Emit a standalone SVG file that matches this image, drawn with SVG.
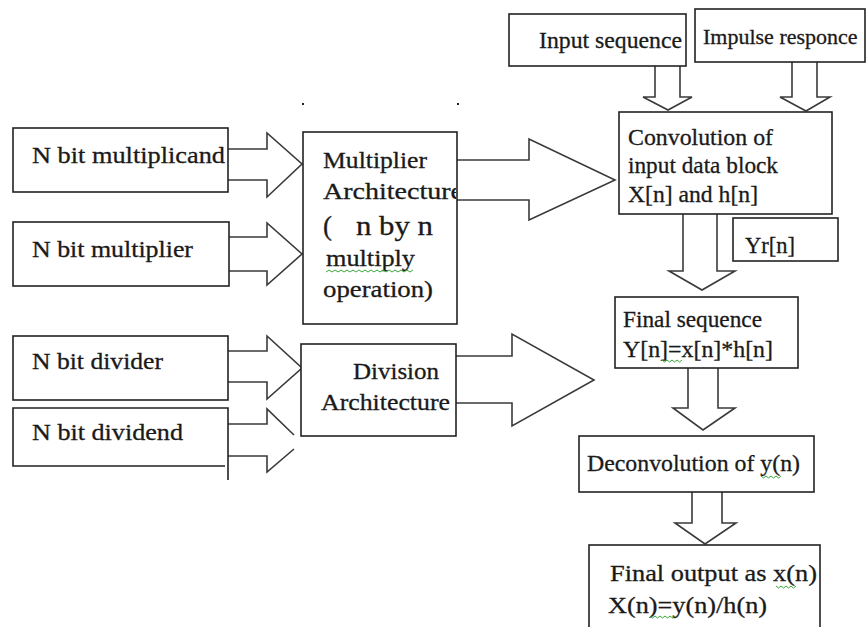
<svg xmlns="http://www.w3.org/2000/svg" width="866" height="627" viewBox="0 0 866 627">
<style>
.box{fill:#fff;stroke:#222;stroke-width:1.6}
.t{font-family:"Liberation Serif","Times New Roman","DejaVu Serif",serif;font-size:24px;fill:#1a1a1a;stroke:#1a1a1a;stroke-width:0.3}
.arr{fill:none;stroke:#3a3a3a;stroke-width:1.6;stroke-linejoin:miter}
.sq{fill:none;stroke:#3aa83a;stroke-width:1}
</style>
<defs>
<clipPath id="clipMul"><rect x="304" y="133" width="152" height="190"/></clipPath>
</defs>
<rect width="866" height="627" fill="#fff"/>

<g id="connectors">
<path class="arr" d="M228,149 H267 V133 L302,164 L267,197 V180 H228"/>
<path class="arr" d="M229,237 H267 V223 L302,254 L267,285 V271 H229"/>
<path class="arr" d="M228,351 H267 V336 L302,368 L267,399 V382 H228"/>
<path class="arr" d="M228,424 H267 V409 L294,435"/>
<path class="arr" d="M228,456 H267 V472 L294,449"/>
<path class="arr" d="M457,160 H529 V139 L615,180 L529,220 V200 H457"/>
<path class="arr" d="M456,356 H512 V334 L594,380 L512,426 V403 H456"/>
<path class="arr" d="M655,66 V97 H643 L668,110 L692,97 H680 V66"/>
<path class="arr" d="M792,62 V97 H780 L806,111 L830,97 H817 V62"/>
<path class="arr" d="M683,214 V271 H669 L702,290 L735,271 H717 V214"/>
<path class="arr" d="M688,368 V408 H673 L703,430 L735,408 H718 V368"/>
<path class="arr" d="M692,492 V523 H675 L705,544 L736,523 H722 V492"/>
</g>

<g id="n-multiplicand">
<rect class="box" x="13" y="128" width="215" height="64"/>
<text class="t" x="32" y="163" textLength="193" lengthAdjust="spacingAndGlyphs">N bit multiplicand</text>
</g>
<g id="n-multiplier">
<rect class="box" x="13" y="222" width="216" height="64"/>
<text class="t" x="32" y="257" textLength="161" lengthAdjust="spacingAndGlyphs">N bit multiplier</text>
</g>
<g id="n-divider">
<rect class="box" x="13" y="336" width="215" height="64"/>
<text class="t" x="32" y="369" textLength="131" lengthAdjust="spacingAndGlyphs">N bit divider</text>
</g>
<g id="n-dividend">
<path class="box" fill="none" d="M225,466 H13 V408 H228 V480"/>
<text class="t" x="32" y="440" textLength="151" lengthAdjust="spacingAndGlyphs">N bit dividend</text>
</g>

<g id="multiplier-arch">
<rect class="box" x="303" y="132" width="154" height="192"/>
<g clip-path="url(#clipMul)">
<text class="t" x="323" y="168" textLength="104" lengthAdjust="spacingAndGlyphs">Multiplier</text>
<text class="t" x="323" y="199" textLength="140" lengthAdjust="spacingAndGlyphs">Architecture</text>
<text class="t" x="323" y="235" style="font-size:27px">(</text>
<text class="t" x="356" y="235" style="font-size:27px" textLength="77" lengthAdjust="spacingAndGlyphs">n by n</text>
<text class="t" x="326" y="266" textLength="89" lengthAdjust="spacingAndGlyphs">multiply</text>
<text class="t" x="323" y="297" textLength="110" lengthAdjust="spacingAndGlyphs">operation)</text>
</g>
<path class="sq" d="M326,272 l3,-2 l3,2 l3,-2 l3,2 l3,-2 l3,2 l3,-2 l3,2 l3,-2 l3,2 l3,-2 l3,2 l3,-2 l3,2 l3,-2 l3,2 l3,-2 l3,2 l3,-2 l3,2 l3,-2 l3,2 l3,-2 l3,2 l3,-2 l3,2 l3,-2 l3,2 l3,-2"/>
</g>

<g id="division-arch">
<rect class="box" x="301" y="344" width="155" height="92"/>
<text class="t" x="353" y="379" textLength="86" lengthAdjust="spacingAndGlyphs">Division</text>
<text class="t" x="321" y="410" textLength="129" lengthAdjust="spacingAndGlyphs">Architecture</text>
</g>

<g id="input-seq">
<rect class="box" x="509" y="14" width="177" height="52"/>
<text class="t" x="539" y="48" textLength="143" lengthAdjust="spacingAndGlyphs">Input sequence</text>
</g>
<g id="impulse">
<rect class="box" x="695" y="9" width="170" height="53"/>
<text class="t" x="703" y="44" style="font-size:22px">Impulse responce</text>
</g>

<g id="convolution">
<rect class="box" x="619" y="112" width="213" height="102"/>
<text class="t" x="628" y="145" textLength="145" lengthAdjust="spacingAndGlyphs">Convolution of</text>
<text class="t" x="628" y="173" textLength="150" lengthAdjust="spacingAndGlyphs">input data block</text>
<text class="t" x="628" y="202" textLength="130" lengthAdjust="spacingAndGlyphs">X[n] and h[n]</text>
</g>

<g id="yr">
<rect class="box" x="733" y="218" width="105" height="43"/>
<text class="t" x="745" y="253" textLength="50" lengthAdjust="spacingAndGlyphs">Yr[n]</text>
</g>

<g id="final-seq">
<rect class="box" x="615" y="297" width="183" height="71"/>
<text class="t" x="623" y="327" textLength="139" lengthAdjust="spacingAndGlyphs">Final sequence</text>
<text class="t" x="623" y="357" textLength="150" lengthAdjust="spacingAndGlyphs">Y[n]=x[n]*h[n]</text>
<path class="sq" d="M662,360 l2.5,2 l2.5,-2 l2.5,2 l2.5,-2 l2.5,2 l2.5,-2 l2.5,2 l2.5,-2"/>
</g>

<g id="deconv">
<rect class="box" x="579" y="436" width="235" height="56"/>
<text class="t" x="587" y="471" textLength="213" lengthAdjust="spacingAndGlyphs">Deconvolution of y(n)</text>
<path class="sq" d="M761,476 l2.5,2 l2.5,-2 l2.5,2 l2.5,-2 l2.5,2 l2.5,-2 l2.5,2 l2.5,-2"/>
</g>

<g id="final-out">
<rect class="box" x="589" y="545" width="231" height="90"/>
<text class="t" x="610" y="581" textLength="207" lengthAdjust="spacingAndGlyphs">Final output as x(n)</text>
<text class="t" x="608" y="613" textLength="159" lengthAdjust="spacingAndGlyphs">X(n)=y(n)/h(n)</text>
<path class="sq" d="M776,586 l2.5,2 l2.5,-2 l2.5,2 l2.5,-2 l2.5,2 l2.5,-2 l2.5,2 l2.5,-2"/>
<path class="sq" d="M650,616 l2.5,2 l2.5,-2 l2.5,2 l2.5,-2 l2.5,2 l2.5,-2 l2.5,2 l2.5,-2 l2.5,2 l2.5,-2"/>
</g>

<g id="marks">
<rect x="302" y="103" width="2" height="2" fill="#222"/>
<rect x="457" y="103" width="2" height="2" fill="#222"/>
</g>
</svg>
